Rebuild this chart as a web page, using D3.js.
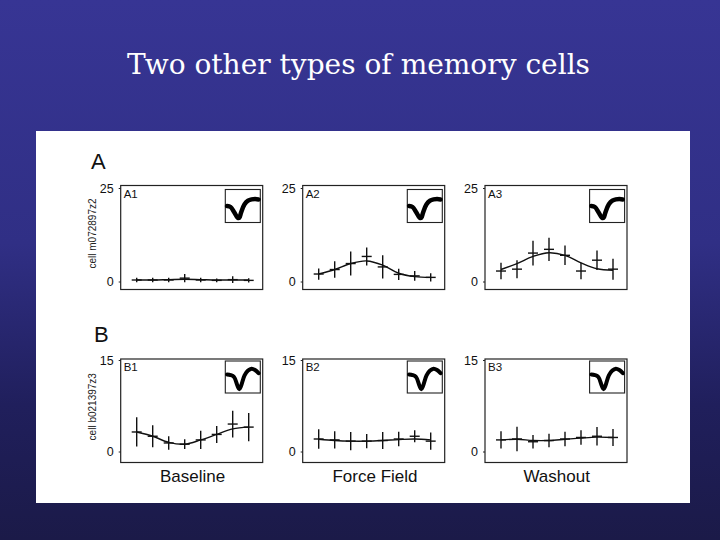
<!DOCTYPE html>
<html><head><meta charset="utf-8">
<script src="https://cdn.jsdelivr.net/npm/d3@7"></script>
<style>body{margin:0;}svg{display:block;}</style>
</head><body>
<script>
// ---------- data ----------
const title = "Two other types of memory cells";
const conditions = ["Baseline", "Force Field", "Washout"];
const targets = [1, 2, 3, 4, 5, 6, 7, 8];
const rowLetters = ["A", "B"];
const cellNames = ["cell m072897z2", "cell b021397z3"];
const yMaxA = 25, yMaxB = 15;
const yTicksA = [0, 25], yTicksB = [0, 15];

// Row A
const a1Mean = [0.4, 0.4, 0.4, 0.9, 0.4, 0.3, 0.5, 0.3];
const a1Err  = [0.6, 0.6, 0.6, 1.1, 0.6, 0.5, 0.9, 0.6];
const a1Fit  = [0.4, 0.4, 0.5, 0.6, 0.5, 0.4, 0.4, 0.4];
const a2Mean = [2.0, 3.2, 4.8, 6.7, 3.9, 1.9, 1.5, 1.1];
const a2Err  = [1.5, 2.2, 3.2, 2.4, 3.1, 1.5, 1.3, 1.1];
const a2Fit  = [2.0, 3.2, 4.8, 5.5, 4.4, 2.2, 1.3, 1.1];
const a3Mean = [2.8, 3.3, 7.6, 8.6, 7.0, 2.8, 5.7, 3.3];
const a3Err  = [2.2, 2.4, 3.3, 3.1, 2.6, 2.2, 2.6, 2.8];
const a3Fit  = [3.2, 4.8, 6.7, 7.7, 7.0, 5.0, 3.4, 3.0];
// Row B
const b1Mean = [3.2, 2.5, 1.4, 1.2, 1.9, 2.8, 4.5, 4.0];
const b1Err  = [2.4, 1.8, 1.1, 0.8, 1.5, 1.4, 2.2, 2.3];
const b1Fit  = [3.2, 2.5, 1.5, 1.2, 1.9, 2.8, 3.7, 4.0];
const b2Mean = [2.05, 1.9, 1.7, 1.7, 1.8, 2.05, 2.5, 1.7];
const b2Err  = [1.6, 1.4, 1.5, 1.15, 1.4, 1.2, 1.0, 1.4];
const b2Fit  = [2.0, 1.8, 1.7, 1.7, 1.8, 1.95, 2.05, 1.9];
const b3Mean = [1.9, 2.05, 1.6, 1.8, 2.05, 2.3, 2.5, 2.3];
const b3Err  = [1.4, 2.0, 1.1, 1.1, 1.2, 1.2, 1.5, 1.4];
const b3Fit  = [1.9, 2.0, 1.8, 1.8, 2.0, 2.2, 2.35, 2.3];

// spike waveforms (normalised amplitude vs normalised time)
const waveT = [0.05, 0.15, 0.25, 0.35, 0.4, 0.45, 0.55, 0.65, 0.75, 0.85, 0.95];
const waveA = [0.50, 0.47, 0.32, 0.15, 0.14, 0.30, 0.55, 0.66, 0.70, 0.71, 0.70];
const waveB = [0.58, 0.56, 0.50, 0.22, 0.12, 0.22, 0.55, 0.70, 0.76, 0.72, 0.62];

// ---------- layout ----------
const W = 720, H = 540;
const svg = d3.select("body").append("svg").attr("width", W).attr("height", H);
const defs = svg.append("defs");
const grad = defs.append("linearGradient").attr("id", "bg").attr("x1", 0).attr("y1", 0).attr("x2", 0).attr("y2", 1);
grad.append("stop").attr("offset", "0%").attr("stop-color", "#373594");
grad.append("stop").attr("offset", "45%").attr("stop-color", "#302f85");
grad.append("stop").attr("offset", "75%").attr("stop-color", "#201f5c");
grad.append("stop").attr("offset", "100%").attr("stop-color", "#1b1a48");
svg.append("rect").attr("width", W).attr("height", H).attr("fill", "url(#bg)");

svg.append("text").attr("x", 358.5).attr("y", 73.5).attr("text-anchor", "middle")
  .attr("font-family", "'DejaVu Serif', 'Liberation Serif', serif").attr("font-size", 27)
  .attr("textLength", 463).attr("lengthAdjust", "spacingAndGlyphs")
  .attr("fill", "#ffffff").text(title);

svg.append("rect").attr("x", 36).attr("y", 131).attr("width", 654).attr("height", 372).attr("fill", "#ffffff");

const font = "'Liberation Sans', Arial, Helvetica, sans-serif";
const colLeft = [120.7, 302.7, 485];
const frameW = 142;
const rows = [
  {top: 185.5, bottom: 289.5, y0: 281.5, yTop: 188, max: yMaxA, ticks: yTicksA,
   data: [[a1Mean, a1Err, a1Fit], [a2Mean, a2Err, a2Fit], [a3Mean, a3Err, a3Fit]], wave: waveA, ww: 4.5},
  {top: 359, bottom: 462.5, y0: 451.5, yTop: 360, max: yMaxB, ticks: yTicksB,
   data: [[b1Mean, b1Err, b1Fit], [b2Mean, b2Err, b2Fit], [b3Mean, b3Err, b3Fit]], wave: waveB, ww: 4}
];

rows.forEach((r, ri) => {
  // row letter
  svg.append("text").attr("x", ri === 0 ? 91 : 94).attr("y", ri === 0 ? 168.5 : 341.5)
    .attr("font-family", font).attr("font-size", 22).attr("fill", "#111").text(rowLetters[ri]);
  // cell name
  const cy = (r.top + r.bottom) / 2 - 4;
  svg.append("text").attr("transform", `translate(96,${cy}) rotate(-90)`)
    .attr("text-anchor", "middle").attr("font-family", font).attr("font-size", 10)
    .attr("fill", "#222").text(cellNames[ri]);

  const y = d3.scaleLinear().domain([0, r.max]).range([r.y0, r.yTop]);
  colLeft.forEach((L, ci) => {
    const g = svg.append("g");
    const x = d3.scaleLinear().domain([1, 8]).range([L + 16, L + 128]);
    const [mean, err, fit] = r.data[ci];
    // frame
    g.append("rect").attr("x", L).attr("y", r.top).attr("width", frameW).attr("height", r.bottom - r.top)
      .attr("fill", "none").attr("stroke", "#222").attr("stroke-width", 1.2);
    // y axis ticks
    const ax = g.append("g").attr("transform", `translate(${L},0)`)
      .call(d3.axisLeft(y).tickValues(r.ticks).tickSize(2).tickPadding(5).tickFormat(d3.format("d")));
    ax.select(".domain").remove();
    ax.selectAll("text").attr("font-family", font).attr("font-size", 12.5).attr("fill", "#111");
    ax.selectAll("line").attr("stroke", "#222");
    // panel label
    g.append("text").attr("x", L + 3).attr("y", r.top + 12).attr("font-family", font)
      .attr("font-size", 11.5).attr("fill", "#111").text(rowLetters[ri] + (ci + 1));
    // fit curve
    g.append("path").datum(targets)
      .attr("d", d3.line().x(d => x(d)).y((d, i) => y(fit[i])).curve(d3.curveCatmullRom))
      .attr("fill", "none").attr("stroke", "#111").attr("stroke-width", 1.4);
    // error crosses
    targets.forEach((t, i) => {
      g.append("line").attr("x1", x(t)).attr("x2", x(t)).attr("y1", y(mean[i] - err[i])).attr("y2", y(mean[i] + err[i]))
        .attr("stroke", "#111").attr("stroke-width", 1.4);
      g.append("line").attr("x1", x(t) - 5).attr("x2", x(t) + 5).attr("y1", y(mean[i])).attr("y2", y(mean[i]))
        .attr("stroke", "#111").attr("stroke-width", 1.4);
    });
    // inset waveform
    const ix = L + 104.6, iy = r.top + (ri === 0 ? 4 : 2), iw = 35, ih = ri === 0 ? 33 : 32;
    g.append("rect").attr("x", ix).attr("y", iy).attr("width", iw).attr("height", ih)
      .attr("fill", "#fff").attr("stroke", "#222").attr("stroke-width", 1.1);
    const wx = d3.scaleLinear().domain([0, 1]).range([ix, ix + iw]);
    const wy = d3.scaleLinear().domain([0, 1]).range([iy + ih, iy]);
    g.append("path").datum(waveT)
      .attr("d", d3.line().x(d => wx(d)).y((d, i) => wy(r.wave[i])).curve(d3.curveCatmullRom))
      .attr("fill", "none").attr("stroke", "#000").attr("stroke-width", r.ww)
      .attr("stroke-linejoin", "round").attr("stroke-linecap", "round");
  });
});

// condition labels
const condX = [192.5, 375, 556.7];
conditions.forEach((c, i) => {
  svg.append("text").attr("x", condX[i]).attr("y", 481.5).attr("text-anchor", "middle")
    .attr("font-family", font).attr("font-size", 17).attr("fill", "#111").text(c);
});
</script>
</body></html>
